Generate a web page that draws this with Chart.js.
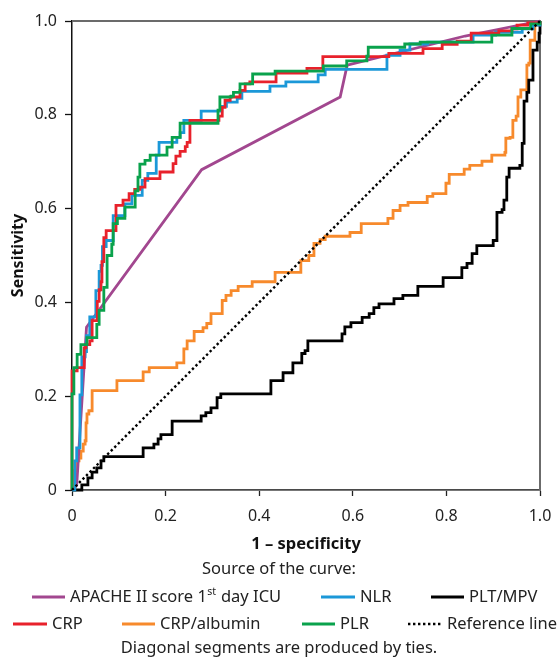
<!DOCTYPE html>
<html>
<head>
<meta charset="utf-8">
<script src="https://cdn.jsdelivr.net/npm/chart.js@4.4.1/dist/chart.umd.min.js"></script>
<style>
  html, body { margin: 0; padding: 0; background: #fff; }
  #roc { display: block; }
</style>
</head>
<body>
<canvas id="roc" width="558" height="659"></canvas>
<script>
// ROC curves, values (1 - specificity, sensitivity)
const tickValues = [0, 0.2, 0.4, 0.6, 0.8, 1];

const apacheX = [0, 0.01, 0.031, 0.277, 0.573, 0.588, 0.84, 1];
const apacheY = [0, 0.01, 0.347, 0.683, 0.838, 0.906, 0.968, 1];

const nlrX = [0, 0.006, 0.010, 0.017, 0.021, 0.028, 0.031, 0.038, 0.051, 0.058, 0.062, 0.065, 0.073, 0.088, 0.113, 0.128, 0.150, 0.162, 0.180, 0.186, 0.224, 0.231, 0.239, 0.276, 0.320, 0.330, 0.353, 0.363, 0.423, 0.457, 0.526, 0.541, 0.673, 0.701, 0.722, 0.760, 0.857, 0.905, 0.962, 0.985, 1];
const nlrY = [0, 0.062, 0.090, 0.203, 0.284, 0.295, 0.329, 0.369, 0.425, 0.466, 0.479, 0.519, 0.532, 0.585, 0.610, 0.628, 0.660, 0.675, 0.714, 0.741, 0.752, 0.762, 0.788, 0.808, 0.818, 0.827, 0.835, 0.850, 0.861, 0.870, 0.885, 0.897, 0.927, 0.938, 0.951, 0.955, 0.970, 0.976, 0.983, 0.991, 1];

const pltX = [0, 0.021, 0.034, 0.043, 0.053, 0.062, 0.068, 0.152, 0.175, 0.184, 0.190, 0.214, 0.276, 0.286, 0.297, 0.310, 0.318, 0.425, 0.451, 0.472, 0.491, 0.498, 0.504, 0.577, 0.583, 0.596, 0.620, 0.635, 0.645, 0.656, 0.688, 0.707, 0.739, 0.793, 0.833, 0.844, 0.855, 0.865, 0.900, 0.908, 0.919, 0.923, 0.929, 0.934, 0.957, 0.962, 0.966, 0.972, 0.976, 0.985, 0.994, 0.998, 1];
const pltY = [0, 0.011, 0.026, 0.038, 0.047, 0.062, 0.071, 0.090, 0.098, 0.109, 0.118, 0.147, 0.158, 0.165, 0.175, 0.197, 0.205, 0.233, 0.250, 0.271, 0.291, 0.297, 0.318, 0.333, 0.348, 0.357, 0.368, 0.376, 0.389, 0.397, 0.408, 0.415, 0.434, 0.453, 0.474, 0.483, 0.504, 0.521, 0.532, 0.592, 0.598, 0.618, 0.667, 0.686, 0.692, 0.739, 0.829, 0.848, 0.874, 0.938, 0.955, 0.974, 1];

const crpX = [0, 0, 0.011, 0.026, 0.030, 0.038, 0.043, 0.054, 0.058, 0.062, 0.064, 0.068, 0.073, 0.094, 0.109, 0.122, 0.134, 0.145, 0.156, 0.188, 0.216, 0.222, 0.231, 0.242, 0.246, 0.252, 0.314, 0.321, 0.327, 0.338, 0.359, 0.370, 0.380, 0.436, 0.502, 0.536, 0.677, 0.750, 0.791, 0.823, 0.853, 0.912, 0.940, 0.951, 0.974, 1];
const crpY = [0, 0.254, 0.261, 0.303, 0.310, 0.318, 0.361, 0.402, 0.427, 0.444, 0.487, 0.538, 0.553, 0.607, 0.618, 0.632, 0.641, 0.646, 0.664, 0.678, 0.696, 0.712, 0.722, 0.732, 0.741, 0.788, 0.797, 0.816, 0.831, 0.838, 0.852, 0.866, 0.870, 0.889, 0.899, 0.924, 0.931, 0.941, 0.950, 0.957, 0.974, 0.979, 0.983, 0.991, 0.996, 1];

const albX = [0, 0.006, 0.011, 0.015, 0.019, 0.024, 0.028, 0.030, 0.032, 0.036, 0.043, 0.096, 0.152, 0.165, 0.224, 0.239, 0.246, 0.261, 0.280, 0.288, 0.297, 0.321, 0.329, 0.340, 0.355, 0.385, 0.434, 0.489, 0.506, 0.517, 0.530, 0.541, 0.594, 0.618, 0.675, 0.686, 0.701, 0.718, 0.759, 0.771, 0.799, 0.806, 0.838, 0.850, 0.876, 0.897, 0.925, 0.927, 0.936, 0.942, 0.949, 0.953, 0.959, 0.972, 0.976, 0.979, 0.989, 1];
const albY = [0, 0.041, 0.062, 0.068, 0.083, 0.098, 0.105, 0.143, 0.162, 0.169, 0.212, 0.233, 0.252, 0.261, 0.271, 0.301, 0.318, 0.338, 0.346, 0.355, 0.376, 0.404, 0.415, 0.425, 0.434, 0.444, 0.464, 0.489, 0.500, 0.526, 0.534, 0.541, 0.549, 0.568, 0.579, 0.596, 0.607, 0.613, 0.626, 0.632, 0.654, 0.673, 0.684, 0.692, 0.701, 0.714, 0.720, 0.750, 0.752, 0.788, 0.797, 0.838, 0.853, 0.906, 0.910, 0.959, 0.991, 1];

const plrX = [0, 0, 0.004, 0.011, 0.019, 0.032, 0.053, 0.058, 0.068, 0.075, 0.085, 0.088, 0.097, 0.113, 0.135, 0.141, 0.145, 0.156, 0.167, 0.203, 0.214, 0.231, 0.312, 0.316, 0.340, 0.345, 0.359, 0.386, 0.434, 0.537, 0.587, 0.630, 0.633, 0.711, 0.744, 0.897, 0.940, 0.980, 1];
const plrY = [0, 0.205, 0.261, 0.289, 0.310, 0.325, 0.353, 0.383, 0.432, 0.500, 0.524, 0.568, 0.579, 0.603, 0.638, 0.667, 0.695, 0.703, 0.714, 0.731, 0.752, 0.782, 0.810, 0.838, 0.840, 0.848, 0.866, 0.887, 0.893, 0.904, 0.915, 0.925, 0.944, 0.951, 0.955, 0.970, 0.984, 0.994, 1];

const refX = [0, 1];
const refY = [0, 1];

const legendLabels = ['APACHE II score 1st day ICU', 'NLR', 'PLT/MPV', 'CRP', 'CRP/albumin', 'PLR', 'Reference line'];
const legendTitle = 'Source of the curve:';
const footNote = 'Diagonal segments are produced by ties.';

const COLORS = {
  apache: '#a2478f',
  nlr: '#1b98d8',
  plt: '#000000',
  crp: '#e8212b',
  alb: '#f78a2c',
  plr: '#0aa24c',
  ref: '#000000'
};

const FONT = '"Noto Sans", "Open Sans", sans-serif';

function toPoints(xs, ys) {
  return xs.map((x, i) => ({ x: x, y: ys[i] }));
}

function curve(label, xs, ys, color, stepped, order) {
  return {
    label: label,
    data: toPoints(xs, ys),
    borderColor: color,
    backgroundColor: color,
    borderWidth: 2.8,
    pointRadius: 0,
    stepped: stepped,
    tension: 0,
    fill: false,
    clip: false,
    order: order
  };
}

const datasets = [
  curve(legendLabels[4], albX, albY, COLORS.alb, true, 6),
  curve(legendLabels[2], pltX, pltY, COLORS.plt, true, 5),
  curve(legendLabels[0], apacheX, apacheY, COLORS.apache, false, 4),
  curve(legendLabels[1], nlrX, nlrY, COLORS.nlr, true, 3),
  curve(legendLabels[3], crpX, crpY, COLORS.crp, true, 2),
  curve(legendLabels[5], plrX, plrY, COLORS.plr, true, 1),
  Object.assign(curve(legendLabels[6], refX, refY, COLORS.ref, false, 0), {
    borderWidth: 2.4,
    borderDash: [2.4, 2.6]
  })
];

// legend layout: [label index, line start, line end, row y]
const legendSlots = [
  [0, 32, 65, 597], [1, 321, 355, 597], [2, 431, 464, 597],
  [3, 13, 47, 624], [4, 122, 155, 624], [5, 302, 335, 624], [6, 408, 442, 624]
];

function drawLabel(ctx, text, x, y) {
  // render "1st" with a raised "st"
  const m = text.match(/^(.*\d)(st)(.*)$/);
  if (!m) { ctx.fillText(text, x, y); return; }
  ctx.fillText(m[1], x, y);
  let cx = x + ctx.measureText(m[1]).width + 0.5;
  const base = ctx.font;
  ctx.font = '10.5px ' + FONT;
  ctx.fillText(m[2], cx, y - 5);
  cx += ctx.measureText(m[2]).width + 0.5;
  ctx.font = base;
  ctx.fillText(m[3], cx, y);
}

const decorations = {
  id: 'decorations',
  beforeDatasetsDraw(chart) {
    const { ctx, chartArea } = chart;
    ctx.save();
    ctx.strokeStyle = '#6b6b6b';
    ctx.lineWidth = 2;
    ctx.beginPath();
    ctx.moveTo(chartArea.left, chartArea.top);
    ctx.lineTo(chartArea.right, chartArea.top);
    ctx.lineTo(chartArea.right, chartArea.bottom);
    ctx.stroke();
    ctx.restore();
  },
  afterDraw(chart) {
    const { ctx } = chart;
    ctx.save();
    ctx.fillStyle = '#222';
    ctx.font = '16.5px ' + FONT;
    ctx.textBaseline = 'middle';
    ctx.textAlign = 'center';
    ctx.fillText(legendTitle, 279, 569);
    ctx.fillText(footNote, 279, 648);

    ctx.textAlign = 'left';
    legendSlots.forEach(([idx, x1, x2, y]) => {
      const ds = datasets.find(d => d.label === legendLabels[idx]);
      ctx.save();
      ctx.strokeStyle = ds.borderColor;
      ctx.lineWidth = idx === 6 ? 2.4 : 2.8;
      if (idx === 6) ctx.setLineDash([2.4, 2.6]);
      ctx.beginPath();
      ctx.moveTo(x1, y);
      ctx.lineTo(x2, y);
      ctx.stroke();
      ctx.restore();
      drawLabel(ctx, legendLabels[idx], x2 + 5, y);
    });
    ctx.restore();
  }
};

function tickLabel(v) {
  return v === 0 ? '0' : v.toFixed(1);
}

new Chart(document.getElementById('roc'), {
  type: 'line',
  data: { datasets: datasets },
  plugins: [decorations],
  options: {
    responsive: false,
    animation: false,
    events: [],
    layout: { padding: { top: 21, right: 18, left: 0, bottom: 104 } },
    plugins: {
      legend: { display: false },
      tooltip: { enabled: false }
    },
    scales: {
      x: {
        type: 'linear',
        min: 0,
        max: 1,
        afterFit(scale) {
          scale.height = 65;
          scale.paddingLeft = 0;
          scale.paddingRight = 0;
        },
        afterBuildTicks(scale) { scale.ticks = tickValues.map(v => ({ value: v })); },
        border: { display: true, color: '#4a4a4a', width: 1.8 },
        grid: { drawOnChartArea: false, drawTicks: true, tickLength: 6, tickColor: '#222', tickWidth: 1.3 },
        ticks: {
          padding: 11,
          color: '#222',
          font: { family: FONT, size: 16 },
          maxRotation: 0,
          callback: tickLabel
        },
        title: {
          display: true,
          text: '1 – specificity',
          color: '#111',
          font: { family: FONT, size: 16.5, weight: 'bold', lineHeight: 1 },
          padding: { top: 0, bottom: 2 }
        }
      },
      y: {
        type: 'linear',
        min: 0,
        max: 1,
        afterFit(scale) { scale.width = 72; },
        afterBuildTicks(scale) { scale.ticks = tickValues.map(v => ({ value: v })); },
        border: { display: true, color: '#111', width: 1.5 },
        grid: { drawOnChartArea: false, drawTicks: true, tickLength: 7, tickColor: '#111', tickWidth: 1.3 },
        ticks: {
          padding: 8,
          color: '#222',
          font: { family: FONT, size: 16 },
          callback: tickLabel
        },
        title: {
          display: true,
          text: 'Sensitivity',
          color: '#111',
          font: { family: FONT, size: 16, weight: 'bold', lineHeight: 1 },
          padding: { top: 10, bottom: 0 }
        }
      }
    }
  }
});
</script>
</body>
</html>
